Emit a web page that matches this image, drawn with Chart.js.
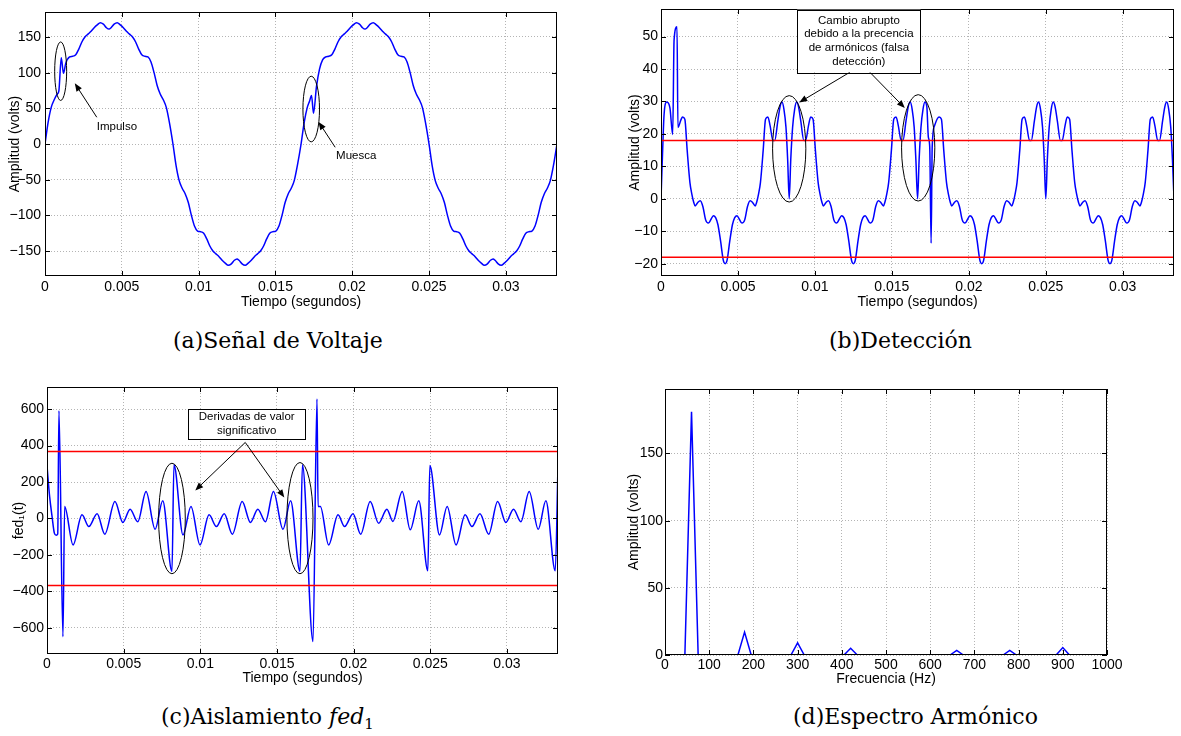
<!DOCTYPE html>
<html lang="es">
<head>
<meta charset="utf-8">
<title>Detección de perturbaciones</title>
<script src="https://cdn.jsdelivr.net/npm/chart.js@4.4.1/dist/chart.umd.min.js"></script>
<style>
  html, body { margin: 0; padding: 0; background: #fff; }
  body { width: 1181px; height: 736px; position: relative; overflow: hidden; }
  canvas { position: absolute; }
  .leyenda { position: absolute; font-family: "DejaVu Serif", serif; font-size: 22px; line-height: 22px; color: #000; white-space: nowrap; }
  .leyenda sub { font-size: 15px; line-height: 0; }
</style>
</head>
<body>
<canvas id="grafico-a" width="580" height="312" style="left:0;top:0"></canvas>
<canvas id="grafico-b" width="581" height="312" style="left:600px;top:0"></canvas>
<canvas id="grafico-c" width="580" height="322" style="left:0;top:368px"></canvas>
<canvas id="grafico-d" width="581" height="322" style="left:600px;top:368px"></canvas>

<div class="leyenda" style="left:173px;top:330px">(a)Señal de Voltaje</div>
<div class="leyenda" style="left:829px;top:330px">(b)Detección</div>
<div class="leyenda" style="left:161px;top:706px">(c)Aislamiento <i>fed</i><sub>1</sub></div>
<div class="leyenda" style="left:793px;top:706px">(d)Espectro Armónico</div>

<script>
// =====================================================
// DATOS
// =====================================================

// ---- (a) Senal de voltaje: impulso ~1 ms, muesca ~17.4 ms ----
const TIEMPO_A = [
  0, 0.0002, 0.0004, 0.0006, 0.0008, 0.0009, 0.00106, 0.0012, 0.00135, 0.0016, 0.0018, 0.002, 0.0022, 0.0024, 0.0026,
  0.0028, 0.003, 0.0032, 0.0034, 0.0036, 0.0038, 0.004, 0.00417, 0.0043, 0.0045, 0.0047, 0.0049, 0.0051, 0.0053,
  0.0055, 0.0057, 0.0059, 0.0061, 0.0063, 0.0065, 0.0067, 0.0069, 0.0071, 0.0073, 0.0075, 0.0077, 0.0079, 0.0081,
  0.00833, 0.00853, 0.00873, 0.00893, 0.00913, 0.00933, 0.00953, 0.00973, 0.00993, 0.01013, 0.01033, 0.01053, 0.01073,
  0.01093, 0.01113, 0.01133, 0.01153, 0.01173, 0.01193, 0.01213, 0.01233, 0.0125, 0.01263, 0.01283, 0.01303, 0.01323,
  0.01343, 0.01363, 0.01383, 0.01403, 0.01423, 0.01443, 0.01463, 0.01483, 0.01503, 0.01523, 0.01543, 0.01563, 0.01583,
  0.01603, 0.01623, 0.01643,
  0.01667, 0.01687, 0.01707, 0.01722, 0.01735, 0.01748, 0.01767, 0.01787, 0.01807, 0.01827, 0.01847, 0.01867, 0.01887,
  0.01907, 0.01927, 0.01947, 0.01967, 0.01987, 0.02007, 0.02027, 0.02047, 0.02067, 0.02083, 0.02097, 0.02117, 0.02137,
  0.02157, 0.02177, 0.02197, 0.02217, 0.02237, 0.02257, 0.02277, 0.02297, 0.02317, 0.02337, 0.02357, 0.02377, 0.02397,
  0.02417, 0.02437, 0.02457, 0.02477,
  0.025, 0.0252, 0.0254, 0.0256, 0.0258, 0.026, 0.0262, 0.0264, 0.0266, 0.0268, 0.027, 0.0272, 0.0274, 0.0276, 0.0278,
  0.028, 0.0282, 0.0284, 0.0286, 0.0288, 0.029, 0.02917, 0.0293, 0.0295, 0.0297, 0.0299, 0.0301, 0.0303, 0.0305, 0.0307,
  0.0309, 0.0311, 0.0313, 0.0315, 0.0317, 0.0319, 0.0321, 0.0323, 0.0325, 0.0327, 0.0329, 0.0331, 0.03333
];
const VOLTAJE_A = [
  0, 30, 51, 62, 70, 74, 121, 99, 113, 122, 123, 125, 133, 143, 150,
  154, 158, 163, 167, 170, 168, 163, 161, 163, 168, 170, 167, 163, 158,
  154, 150, 143, 133, 125, 123, 122, 115, 100, 82, 70, 62, 51, 30,
  0, -30, -51, -62, -70, -82, -100, -115, -122, -123, -125, -133, -143,
  -150, -154, -158, -163, -167, -170, -168, -163, -161, -163, -168, -170, -167,
  -163, -158, -154, -150, -143, -133, -125, -123, -122, -115, -100, -82, -70,
  -62, -51, -30,
  0, 30, 51, 60, 68, 43, 80, 105, 118, 122, 123, 125, 133,
  143, 150, 154, 158, 163, 167, 170, 168, 163, 161, 163, 168, 170,
  167, 163, 158, 154, 150, 143, 133, 125, 123, 122, 115, 100, 82,
  70, 62, 51, 30,
  0, -30, -51, -62, -70, -82, -100, -115, -122, -123, -125, -133, -143, -150, -154,
  -158, -163, -167, -170, -168, -163, -161, -163, -168, -170, -167, -163, -158, -154, -150,
  -143, -133, -125, -123, -122, -115, -100, -82, -70, -62, -51, -30, 0
];

// ---- (b) Deteccion ----
const TIEMPO_B = [
  0, 0.0001, 0.0002, 0.00037, 0.00058, 0.00076, 0.00085, 0.00104, 0.0011, 0.0013, 0.0014, 0.00155, 0.0017, 0.00188,
  0.002, 0.00212, 0.00222, 0.00238, 0.00255, 0.00272, 0.0029, 0.00308, 0.00325, 0.0034, 0.00355, 0.0037, 0.00387,
  0.00405, 0.00417, 0.00429, 0.00447, 0.00464, 0.00479, 0.00494, 0.00509, 0.00526, 0.00544, 0.00562, 0.00579, 0.00596,
  0.00612, 0.00622, 0.00634, 0.00646, 0.00664, 0.00679, 0.00694, 0.00709, 0.00727, 0.00739, 0.00759, 0.00774, 0.00786,
  0.00799, 0.00812, 0.00823,
  0.00833, 0.00843, 0.00855, 0.00868, 0.00881, 0.00893, 0.00908, 0.00928, 0.0094, 0.00958, 0.00973, 0.00988, 0.01003,
  0.01021, 0.01033, 0.01045, 0.01055, 0.01071, 0.01088, 0.01105, 0.01123, 0.01141, 0.01158, 0.01173, 0.01188, 0.01203,
  0.0122, 0.01238, 0.0125, 0.01262, 0.0128, 0.01297, 0.01312, 0.01327, 0.01342, 0.01359, 0.01377, 0.01395, 0.01412,
  0.01429, 0.01445, 0.01455, 0.01467, 0.01479, 0.01497, 0.01512, 0.01527, 0.01542, 0.0156, 0.01572, 0.01592, 0.01607,
  0.01619, 0.01632, 0.01645, 0.01656,
  0.01667, 0.01677, 0.01689, 0.01702, 0.01715, 0.01727, 0.01737, 0.01746, 0.01755, 0.01762, 0.01777, 0.01807, 0.01822,
  0.01837, 0.01855, 0.01867, 0.01879, 0.01889, 0.01905, 0.01922, 0.01939, 0.01957, 0.01975, 0.01992, 0.02007, 0.02022,
  0.02037, 0.02054, 0.02072, 0.02084, 0.02096, 0.02114, 0.02131, 0.02146, 0.02161, 0.02176, 0.02193, 0.02211, 0.02229,
  0.02246, 0.02263, 0.02279, 0.02289, 0.02301, 0.02313, 0.02331, 0.02346, 0.02361, 0.02376, 0.02394, 0.02406, 0.02426,
  0.02441, 0.02453, 0.02466, 0.02479, 0.0249,
  0.025, 0.0251, 0.02522, 0.02535, 0.02548, 0.0256, 0.02575, 0.02595, 0.02607, 0.02625, 0.0264, 0.02655, 0.0267,
  0.02688, 0.027, 0.02712, 0.02722, 0.02738, 0.02755, 0.02772, 0.0279, 0.02808, 0.02825, 0.0284, 0.02855, 0.0287,
  0.02887, 0.02905, 0.02917, 0.02929, 0.02947, 0.02964, 0.02979, 0.02994, 0.03009, 0.03026, 0.03044, 0.03062, 0.03079,
  0.03096, 0.03112, 0.03122, 0.03134, 0.03146, 0.03164, 0.03179, 0.03194, 0.03209, 0.03227, 0.03239, 0.03259, 0.03274,
  0.03286, 0.03299, 0.03312, 0.03323, 0.03333
];
const DETECCION_B = [
  0, 14, 26, 29.8, 28, 19.8, 49, 53, 22, 24.4, 25.2, 24.5, 15, 5,
  1.5, -1, -2.2, -1.2, -0.6, -2.4, -6.5, -7.5, -6.3, -5.2, -5.8, -8, -13,
  -19, -20, -19, -13, -8, -5.8, -5.2, -6.3, -7.5, -6.5, -2.4, -0.6, -1.2,
  -2.2, -1, 1.5, 5, 15, 24.5, 25.2, 22.5, 18, 18, 24, 28.5, 29.8,
  27.5, 22, 12,
  0, 12, 22, 27.5, 29.8, 28.5, 24, 18, 18, 22.5, 25.2, 24.5, 15,
  5, 1.5, -1, -2.2, -1.2, -0.6, -2.4, -6.5, -7.5, -6.3, -5.2, -5.8, -8,
  -13, -19, -20, -19, -13, -8, -5.8, -5.2, -6.3, -7.5, -6.5, -2.4, -0.6,
  -1.2, -2.2, -1, 1.5, 5, 15, 24.5, 25.2, 22.5, 18, 18, 24, 28.5,
  29.8, 27.5, 22, 12,
  0, 12, 22, 27.5, 29.8, 28.5, 19, 16, -13.7, 16, 22.5, 25.2, 24.5,
  15, 5, 1.5, -1, -2.2, -1.2, -0.6, -2.4, -6.5, -7.5, -6.3, -5.2, -5.8,
  -8, -13, -19, -20, -19, -13, -8, -5.8, -5.2, -6.3, -7.5, -6.5, -2.4,
  -0.6, -1.2, -2.2, -1, 1.5, 5, 15, 24.5, 25.2, 22.5, 18, 18, 24,
  28.5, 29.8, 27.5, 22, 12,
  0, 12, 22, 27.5, 29.8, 28.5, 24, 18, 18, 22.5, 25.2, 24.5, 15,
  5, 1.5, -1, -2.2, -1.2, -0.6, -2.4, -6.5, -7.5, -6.3, -5.2, -5.8, -8,
  -13, -19, -20, -19, -13, -8, -5.8, -5.2, -6.3, -7.5, -6.5, -2.4, -0.6,
  -1.2, -2.2, -1, 1.5, 5, 15, 24.5, 25.2, 22.5, 18, 18, 24, 28.5,
  29.8, 27.5, 22, 12, 0
];
const UMBRAL_B = 18;

// ---- (c) Aislamiento fed1 ----
const TIEMPO_C = [
  0, 0.00017, 0.00033, 0.00048, 0.0006, 0.0007, 0.00078, 0.00104, 0.00115, 0.0017, 0.00228, 0.00273, 0.00327,
  0.00377, 0.00443, 0.00495, 0.00542, 0.00592, 0.00646, 0.00705, 0.00755, 0.00815, 0.00828,
  0.00887, 0.00939, 0.00998, 0.01057, 0.01105, 0.01156, 0.01209, 0.01273, 0.01327, 0.01375, 0.01425, 0.01477,
  0.01539, 0.01589, 0.0165, 0.01666,
  0.01735, 0.01761, 0.01768, 0.01783, 0.01837, 0.01898, 0.01941, 0.01996, 0.02046, 0.02108, 0.02163, 0.02217,
  0.02256, 0.02317, 0.02369, 0.02425, 0.02484, 0.02497,
  0.0256, 0.0261, 0.02668, 0.02727, 0.02772, 0.02824, 0.02881, 0.02939, 0.02993, 0.03043, 0.03091, 0.03145,
  0.03204, 0.03254, 0.03315, 0.03333
];
const FED_C = [
  289, 121, 11, -80, -92, -85, 591, -648, 66, -145, 20, -44, 26,
  -86, 93, -22, 51, -18, 148, -59, 97, -291, 295,
  -90, 66, -145, 20, -44, 26, -86, 93, -22, 51, -18, 148,
  -59, 97, -290, 295,
  -675, 655, 66, 66, -145, 20, -44, 26, -86, 93, -26, 51,
  -16, 148, -62, 97, -287, 291,
  -90, 66, -145, 20, -44, 26, -86, 93, -22, 51, -18, 148,
  -59, 97, -287, 291
];
const UMBRAL_C = 367;

// ---- (d) Espectro armonico ----
const FRECUENCIA_D = [0, 45, 60, 75, 165, 180, 195, 285, 300, 315, 405, 420, 435, 645, 660, 675, 765, 780, 795, 885, 900, 915, 1000];
const AMPLITUD_D   = [0, 0, 181, 0, 0, 17, 0, 0, 9, 0, 0, 5, 0, 0, 3.5, 0, 0, 3.5, 0, 0, 5.5, 0, 0];

// ---- ejes ----
const T_FIN = 0.03333;
const TICKS_TIEMPO = [0, 0.005, 0.01, 0.015, 0.02, 0.025, 0.03];
const TICKS_A_Y = [-150, -100, -50, 0, 50, 100, 150];
const TICKS_B_Y = [-20, -10, 0, 10, 20, 30, 40, 50];
const TICKS_C_Y = [-600, -400, -200, 0, 200, 400, 600];
const TICKS_D_X = [0, 100, 200, 300, 400, 500, 600, 700, 800, 900, 1000];
const TICKS_D_Y = [0, 50, 100, 150];

// =====================================================
// ESTILO
// =====================================================
const FUENTE = '"Liberation Sans", Arial, Helvetica, "DejaVu Sans", sans-serif';
const AZUL = "#0000ff";
const ROJO = "#ff0000";

function formato(v) {
  return v < 0 ? "\u2212" + Math.abs(v) : String(v);
}

function serie(xs, ys, color, suave) {
  return {
    data: xs.map((x, i) => ({ x: x, y: ys[i] })),
    borderColor: color,
    borderWidth: 1.5,
    pointRadius: 0,
    fill: false,
    cubicInterpolationMode: suave ? "monotone" : "default",
    tension: 0
  };
}

function eje(c, dir) {
  return {
    type: "linear",
    min: c.min,
    max: c.max,
    afterBuildTicks: s => { s.ticks = c.ticks.map(v => ({ value: v })); },
    afterFit: s => {
      // tamano fijo del eje, sin relleno extra por las etiquetas
      if (dir === "x") s.height = c.tam; else s.width = c.tam;
      s.paddingTop = 0; s.paddingBottom = 0; s.paddingLeft = 0; s.paddingRight = 0;
    },
    ticks: {
      color: "#000", padding: c.pad, autoSkip: false, maxRotation: 0,
      font: { family: FUENTE, size: 14 },
      callback: v => formato(v)
    },
    grid: { color: "#b4b4b4", lineWidth: 1, drawTicks: false },
    border: { display: false, dash: [1, 2] },
    title: {
      display: true, text: c.titulo, color: "#000",
      font: { family: FUENTE, size: 14 },
      padding: dir === "x" ? { top: 0, bottom: c.tpad } : { top: c.tpad, bottom: 0 }
    }
  };
}

// marco, marcas interiores y anotaciones
function estiloMatlab(notas) {
  return {
    id: "estiloMatlab",
    afterDatasetsDraw(chart) {
      const { ctx, chartArea: a, scales: { x, y } } = chart;
      const px = v => x.getPixelForValue(v);
      const py = v => y.getPixelForValue(v);
      ctx.save();
      ctx.strokeStyle = "#000";
      ctx.lineWidth = 1;
      ctx.beginPath();
      x.ticks.forEach(t => {
        const p = Math.round(px(t.value)) + 0.5;
        ctx.moveTo(p, a.bottom); ctx.lineTo(p, a.bottom - 5);
        ctx.moveTo(p, a.top); ctx.lineTo(p, a.top + 5);
      });
      y.ticks.forEach(t => {
        const p = Math.round(py(t.value)) + 0.5;
        ctx.moveTo(a.left, p); ctx.lineTo(a.left + 5, p);
        ctx.moveTo(a.right, p); ctx.lineTo(a.right - 5, p);
      });
      ctx.stroke();
      ctx.strokeRect(Math.round(a.left) + 0.5, Math.round(a.top) + 0.5,
        Math.round(a.right) - Math.round(a.left) - 1, Math.round(a.bottom) - Math.round(a.top) - 1);

      ctx.font = "11.5px " + FUENTE;
      ctx.fillStyle = "#000";
      ctx.textAlign = "center";
      ctx.textBaseline = "middle";

      (notas.elipses || []).forEach(e => {
        const cx = px(e.x), cy = py(e.y);
        ctx.beginPath();
        ctx.ellipse(cx, cy, Math.abs(px(e.x + e.rx) - cx), Math.abs(py(e.y + e.ry) - cy), 0, 0, Math.PI * 2);
        ctx.stroke();
      });

      (notas.flechas || []).forEach(f => {
        const x1 = px(f.x1), y1 = py(f.y1), x2 = px(f.x2), y2 = py(f.y2);
        const ang = Math.atan2(y2 - y1, x2 - x1);
        ctx.beginPath();
        ctx.moveTo(x1, y1);
        ctx.lineTo(x2 - 6 * Math.cos(ang), y2 - 6 * Math.sin(ang));
        ctx.stroke();
        ctx.beginPath();
        ctx.moveTo(x2, y2);
        ctx.lineTo(x2 - 8 * Math.cos(ang) + 3.2 * Math.sin(ang), y2 - 8 * Math.sin(ang) - 3.2 * Math.cos(ang));
        ctx.lineTo(x2 - 8 * Math.cos(ang) - 3.2 * Math.sin(ang), y2 - 8 * Math.sin(ang) + 3.2 * Math.cos(ang));
        ctx.closePath();
        ctx.fill();
      });

      (notas.cajas || []).forEach(c => {
        const x1 = px(c.x1), y1 = py(c.y1), x2 = px(c.x2), y2 = py(c.y2);
        ctx.fillStyle = "#fff";
        ctx.fillRect(x1, y1, x2 - x1, y2 - y1);
        ctx.strokeRect(Math.round(x1) + 0.5, Math.round(y1) + 0.5, Math.round(x2 - x1), Math.round(y2 - y1));
        ctx.fillStyle = "#000";
        const cy = (y1 + y2) / 2;
        const n = c.lineas.length;
        c.lineas.forEach((t, i) => {
          ctx.fillText(t, (x1 + x2) / 2, cy + (i - (n - 1) / 2) * c.interlinea);
        });
      });

      (notas.textos || []).forEach(t => {
        ctx.fillText(t.texto, px(t.x), py(t.y));
      });
      ctx.restore();
    }
  };
}

function crearGrafico(id, cfg) {
  return new Chart(document.getElementById(id), {
    type: "line",
    data: { datasets: cfg.series },
    options: {
      responsive: false,
      animation: false,
      devicePixelRatio: 1,
      layout: { padding: { top: cfg.arriba, right: cfg.derecha, bottom: 0, left: 0 } },
      plugins: { legend: { display: false }, tooltip: { enabled: false } },
      scales: { x: eje(cfg.x, "x"), y: eje(cfg.y, "y") }
    },
    plugins: [estiloMatlab(cfg.notas || {})]
  });
}

// =====================================================
// GRAFICOS
// =====================================================
crearGrafico("grafico-a", {
  arriba: 12, derecha: 23,
  series: [serie(TIEMPO_A, VOLTAJE_A, AZUL, true)],
  x: { min: 0, max: T_FIN, ticks: TICKS_TIEMPO, tam: 36, pad: 3, titulo: "Tiempo (segundos)", tpad: 1.6 },
  y: { min: -185, max: 185, ticks: TICKS_A_Y, tam: 45, pad: 4, titulo: "Amplitud (volts)", tpad: 6.6 },
  notas: {
    elipses: [{ x: 0.00102, y: 102, rx: 0.00039, ry: 41 }, { x: 0.01733, y: 49, rx: 0.00054, ry: 46 }],
    flechas: [{ x1: 0.00337, y1: 37.5, x2: 0.00194, y2: 85 }, { x1: 0.01889, y1: -4.6, x2: 0.01781, y2: 31 }],
    textos: [{ x: 0.00468, y: 23.5, texto: "Impulso" }, { x: 0.02026, y: -17, texto: "Muesca" }]
  }
});

crearGrafico("grafico-b", {
  arriba: 9, derecha: 7,
  series: [
    serie([0, T_FIN], [UMBRAL_B, UMBRAL_B], ROJO, false),
    serie([0, T_FIN], [-UMBRAL_B, -UMBRAL_B], ROJO, false),
    serie(TIEMPO_B, DETECCION_B, AZUL, true)
  ],
  x: { min: 0, max: T_FIN, ticks: TICKS_TIEMPO, tam: 36, pad: 3, titulo: "Tiempo (segundos)", tpad: 1.9 },
  y: { min: -23.8, max: 58.5, ticks: TICKS_B_Y, tam: 61, pad: 3, titulo: "Amplitud (volts)", tpad: 27 },
  notas: {
    elipses: [{ x: 0.00833, y: 15.4, rx: 0.00108, ry: 16.4 }, { x: 0.01671, y: 15.7, rx: 0.00108, ry: 16.4 }],
    flechas: [{ x1: 0.01227, y1: 39, x2: 0.00898, y2: 29.7 }, { x1: 0.01357, y1: 39, x2: 0.01584, y2: 28 }],
    cajas: [{ x1: 0.00885, y1: 58.3, x2: 0.01686, y2: 39, interlinea: 13.7,
      lineas: ["Cambio abrupto", "debido a la precencia", "de armónicos (falsa", "detección)"] }]
  }
});

crearGrafico("grafico-c", {
  arriba: 19, derecha: 22,
  series: [
    serie([0, T_FIN], [UMBRAL_C, UMBRAL_C], ROJO, false),
    serie([0, T_FIN], [-UMBRAL_C, -UMBRAL_C], ROJO, false),
    serie(TIEMPO_C, FED_C, AZUL, true)
  ],
  x: { min: 0, max: T_FIN, ticks: TICKS_TIEMPO, tam: 36, pad: 2, titulo: "Tiempo (segundos)", tpad: 3.6 },
  y: { min: -743, max: 721, ticks: TICKS_C_Y, tam: 47, pad: 3, titulo: "fed\u2081(t)", tpad: 10.6 },
  notas: {
    elipses: [{ x: 0.00815, y: 0, rx: 0.00087, ry: 303 }, { x: 0.0165, y: 2, rx: 0.00085, ry: 305 }],
    flechas: [{ x1: 0.01293, y1: 417, x2: 0.00967, y2: 154 }, { x1: 0.01293, y1: 417, x2: 0.01548, y2: 115 }],
    cajas: [{ x1: 0.0092, y1: 600, x2: 0.01685, y2: 437, interlinea: 14.4,
      lineas: ["Derivadas de valor", "significativo"] }]
  }
});

crearGrafico("grafico-d", {
  arriba: 21, derecha: 74,
  series: [serie(FRECUENCIA_D, AMPLITUD_D, AZUL, false)],
  x: { min: 0, max: 1000, ticks: TICKS_D_X, tam: 35, pad: 2, titulo: "Frecuencia (Hz)", tpad: 2.6 },
  y: { min: 0, max: 198, ticks: TICKS_D_Y, tam: 65, pad: 2, titulo: "Amplitud (volts)", tpad: 25.6 }
});
</script>
</body>
</html>
